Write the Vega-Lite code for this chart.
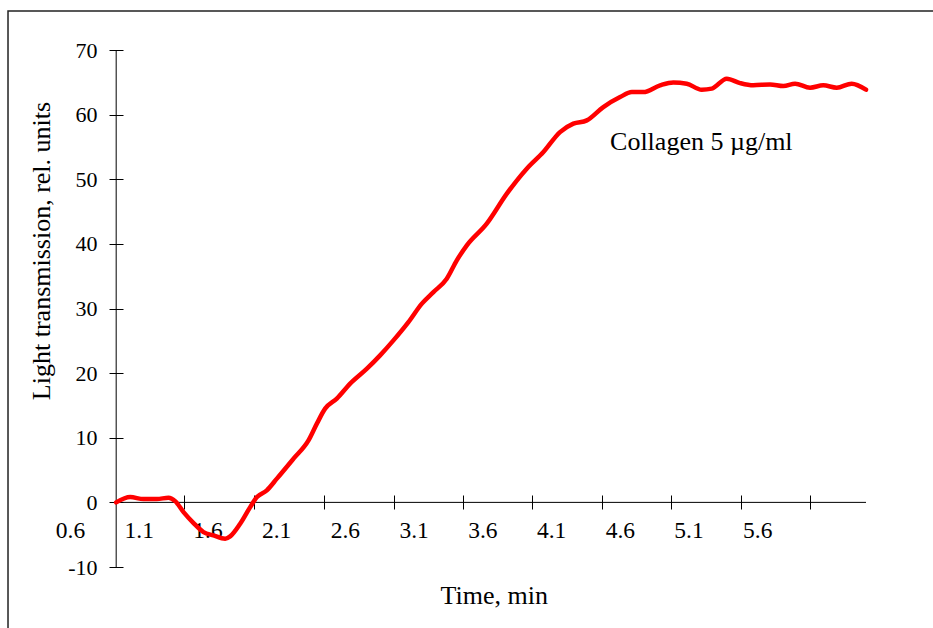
{
  "$schema": "https://vega.github.io/schema/vega-lite/v6.json",
  "autosize": {"type": "none"},
  "padding": {"left": 70, "top": 50, "right": 67, "bottom": 61},
  "width": 796,
  "height": 517,
  "background": "white",
  "config": {
    "view": {"stroke": null},
    "font": "Liberation Serif",
    "axis": {"grid": false}
  },
  "datasets": {
    "curve": [
      {"time": 0.936, "value": 0.0},
      {"time": 1.038, "value": 0.82},
      {"time": 1.135, "value": 0.51},
      {"time": 1.232, "value": 0.51},
      {"time": 1.317, "value": 0.73},
      {"time": 1.365, "value": 0.2},
      {"time": 1.426, "value": -1.5},
      {"time": 1.499, "value": -3.2},
      {"time": 1.571, "value": -4.6},
      {"time": 1.644, "value": -5.11},
      {"time": 1.729, "value": -5.62},
      {"time": 1.765, "value": -5.26},
      {"time": 1.838, "value": -3.3},
      {"time": 1.911, "value": -0.73},
      {"time": 1.96, "value": 0.82},
      {"time": 2.032, "value": 1.86},
      {"time": 2.105, "value": 3.67},
      {"time": 2.226, "value": 6.76},
      {"time": 2.335, "value": 9.59},
      {"time": 2.396, "value": 12.18},
      {"time": 2.456, "value": 14.5},
      {"time": 2.541, "value": 16.05},
      {"time": 2.638, "value": 18.37},
      {"time": 2.76, "value": 20.69},
      {"time": 2.856, "value": 22.75},
      {"time": 2.953, "value": 25.07},
      {"time": 3.062, "value": 27.9},
      {"time": 3.16, "value": 30.75},
      {"time": 3.244, "value": 32.54},
      {"time": 3.341, "value": 34.61},
      {"time": 3.414, "value": 37.45},
      {"time": 3.487, "value": 39.77},
      {"time": 3.632, "value": 43.13},
      {"time": 3.778, "value": 47.77},
      {"time": 3.923, "value": 51.64},
      {"time": 4.044, "value": 54.21},
      {"time": 4.165, "value": 57.3},
      {"time": 4.262, "value": 58.6},
      {"time": 4.36, "value": 59.11},
      {"time": 4.48, "value": 61.17},
      {"time": 4.602, "value": 62.72},
      {"time": 4.687, "value": 63.49},
      {"time": 4.771, "value": 63.49},
      {"time": 4.893, "value": 64.53},
      {"time": 4.989, "value": 64.99},
      {"time": 5.087, "value": 64.79},
      {"time": 5.196, "value": 63.86},
      {"time": 5.269, "value": 64.02},
      {"time": 5.378, "value": 65.56},
      {"time": 5.475, "value": 64.88},
      {"time": 5.571, "value": 64.53},
      {"time": 5.693, "value": 64.68},
      {"time": 5.79, "value": 64.42},
      {"time": 5.875, "value": 64.79},
      {"time": 5.984, "value": 64.17},
      {"time": 6.08, "value": 64.53},
      {"time": 6.178, "value": 64.17},
      {"time": 6.287, "value": 64.79},
      {"time": 6.391, "value": 63.86}
    ],
    "note": [
      {"time": 4.529, "value": 54.5, "label": "Collagen 5 µg/ml"}
    ]
  },
  "layer": [
    {
      "data": {"values": [{}]},
      "mark": {"type": "rect", "fill": null, "stroke": "#222222", "strokeWidth": 1.5},
      "encoding": {
        "x": {"datum": 0.149, "type": "quantitative", "scale": {"domain": [0.6, 6.391], "nice": false, "zero": false}},
        "x2": {"datum": 7.5},
        "y": {"datum": 76.03, "type": "quantitative", "scale": {"domain": [-10, 70], "nice": false, "zero": false}},
        "y2": {"datum": -25}
      }
    },
    {
      "data": {"values": [{}]},
      "mark": {"type": "rule", "color": "#000000", "strokeWidth": 1},
      "encoding": {
        "x": {"datum": 0.936, "type": "quantitative"},
        "y": {"datum": -10, "type": "quantitative"},
        "y2": {"datum": 70}
      }
    },
    {
      "data": {"values": [{}]},
      "mark": {"type": "rule", "color": "#000000", "strokeWidth": 1},
      "encoding": {
        "y": {"datum": 0, "type": "quantitative"},
        "x": {"datum": 0.936, "type": "quantitative"},
        "x2": {"datum": 6.391}
      }
    },
    {
      "data": {"name": "curve"},
      "mark": {"type": "line", "color": "#ff0000", "strokeWidth": 4.5, "interpolate": "monotone", "strokeCap": "round", "strokeJoin": "round"},
      "encoding": {
        "x": {
          "field": "time",
          "type": "quantitative",
          "scale": {"domain": [0.6, 6.391], "nice": false, "zero": false},
          "axis": {
            "title": "Time, min",
            "values": [0.6, 1.1, 1.429, 1.6, 1.939, 2.1, 2.448, 2.6, 2.957, 3.1, 3.459, 3.6, 3.961, 4.1, 4.471, 4.6, 4.973, 5.1, 5.482, 5.6, 5.984],
            "tickCount": 100,
            "labelExpr": "abs(datum.value*10 - round(datum.value*10)) < 0.01 ? format(datum.value, '.1f') : ''",
            "tickOpacity": {"condition": {"test": "abs(datum.value*10 - round(datum.value*10)) < 0.01", "value": 0}, "value": 1},
            "offset": -72,
            "tickSize": 14,
            "tickColor": "#000000",
            "tickWidth": 1,
            "domain": false,
            "grid": false,
            "labelFlush": false,
            "labelOverlap": false,
            "labelAlign": "center",
            "labelBaseline": "alphabetic",
            "labelPadding": 28,
            "labelFont": "Liberation Serif",
            "labelFontSize": 23.5,
            "labelColor": "#000000",
            "titleFont": "Liberation Serif",
            "titleFontSize": 26,
            "titleFontWeight": "normal",
            "titleColor": "#000000",
            "titleX": 423.75,
            "titleY": 108,
            "titleAlign": "center",
            "titleBaseline": "alphabetic"
          }
        },
        "y": {
          "field": "value",
          "type": "quantitative",
          "scale": {"domain": [-10, 70], "nice": false, "zero": false},
          "axis": {
            "title": "Light transmission, rel. units",
            "values": [-10, 0, 10, 20, 30, 40, 50, 60, 70],
            "tickCount": 100,
            "labelExpr": "datum.value < 0 ? '-' + abs(datum.value) : '' + datum.value",
            "offset": -53,
            "tickSize": 14,
            "tickColor": "#000000",
            "tickWidth": 1,
            "domain": false,
            "grid": false,
            "labelFlush": false,
            "labelOverlap": false,
            "labelPadding": 12,
            "labelFont": "Liberation Serif",
            "labelFontSize": 22,
            "labelColor": "#000000",
            "labelBaseline": "middle",
            "titleFont": "Liberation Serif",
            "titleFontSize": 26,
            "titleFontWeight": "normal",
            "titleColor": "#000000",
            "titleAngle": 270,
            "titleX": -74,
            "titleY": 200.5,
            "titleAlign": "center",
            "titleBaseline": "alphabetic"
          }
        }
      }
    },
    {
      "data": {"name": "note"},
      "mark": {"type": "text", "align": "left", "baseline": "alphabetic", "font": "Liberation Serif", "fontSize": 26, "color": "#000000"},
      "encoding": {
        "x": {"field": "time", "type": "quantitative"},
        "y": {"field": "value", "type": "quantitative"},
        "text": {"field": "label"}
      }
    }
  ]
}
